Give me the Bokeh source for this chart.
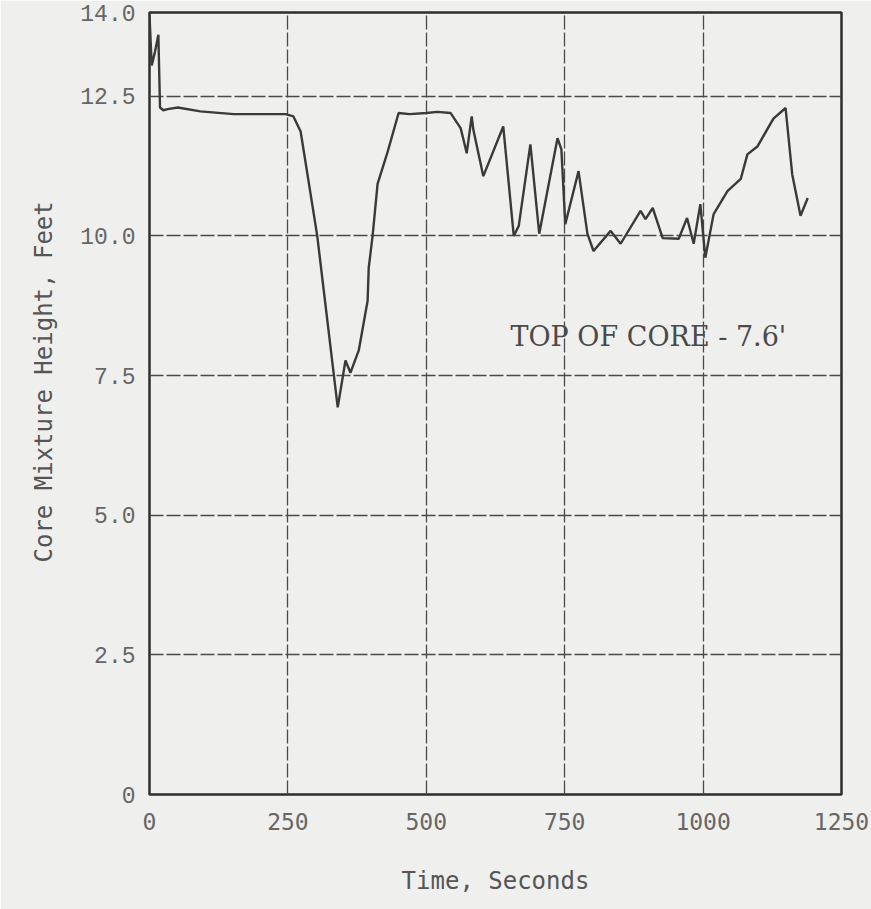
from bokeh.plotting import figure
from bokeh.models import FixedTicker, Label, Title, ColumnDataSource
from bokeh.embed import file_html
from bokeh.resources import INLINE

# Core mixture height history (time in seconds, height in feet)
time_s = [0, 2, 4, 10, 16, 19, 25, 33, 51, 92, 152, 200, 246, 260, 273,
          303, 340, 354, 363, 378, 394, 396, 403, 412, 430, 450, 470, 500,
          520, 544, 562, 567, 573, 582, 585, 603, 639, 658, 667, 688, 704,
          737, 744, 751, 775, 791, 802, 833, 851, 887, 896, 909, 927, 956,
          971, 983, 995, 1004, 1019, 1044, 1068, 1080, 1098, 1127, 1149,
          1161, 1176, 1189]
height_ft = [13.95, 13.5, 13.05, 13.3, 13.6, 12.3, 12.25, 12.27, 12.3, 12.23,
             12.18, 12.18, 12.18, 12.14, 11.87, 10.0, 6.93, 7.77, 7.55, 7.95,
             8.84, 9.43, 10.0, 10.93, 11.5, 12.2, 12.18, 12.2, 12.22, 12.2,
             11.93, 11.73, 11.48, 12.14, 11.9, 11.07, 11.96, 10.0, 10.18,
             11.64, 10.04, 11.75, 11.55, 10.21, 11.16, 10.04, 9.73, 10.09,
             9.86, 10.45, 10.3, 10.5, 9.96, 9.95, 10.32, 9.86, 10.57, 9.61,
             10.39, 10.8, 11.02, 11.46, 11.6, 12.1, 12.29, 11.1, 10.36, 10.68]

x_ticks = [0, 250, 500, 750, 1000, 1250]
y_ticks = [0, 2.5, 5.0, 7.5, 10.0, 12.5, 14.0]
y_tick_labels = ["0", "2.5", "5.0", "7.5", "10.0", "12.5", "14.0"]
note_text = "TOP OF CORE - 7.6'"
y_title = "Core Mixture Height, Feet"
x_title = "Time, Seconds"

BG = "#efefed"
INK = "#3a3a3a"

p = figure(width=871, height=909, x_range=(0, 1250), y_range=(0, 14),
           output_backend="svg", toolbar_location=None,
           min_border_left=149, min_border_right=30,
           min_border_top=12, min_border_bottom=115,
           background_fill_color=BG, border_fill_color=BG)

src = ColumnDataSource(data=dict(t=time_s, h=height_ft))
p.line("t", "h", source=src, line_color=INK, line_width=2.4)

# frame
p.outline_line_color = "#2e2e2e"
p.outline_line_width = 2.5

# axes
p.xaxis.ticker = FixedTicker(ticks=x_ticks)
p.yaxis.ticker = FixedTicker(ticks=y_ticks)
p.yaxis.major_label_overrides = {t: l for t, l in zip(y_ticks, y_tick_labels)}
for ax in (p.xaxis[0], p.yaxis[0]):
    ax.axis_line_color = None
    ax.major_tick_line_color = None
    ax.minor_tick_line_color = None
    ax.major_label_text_color = "#666666"
    ax.axis_label_text_color = "#555555"
    ax.axis_label_text_font_style = "normal"

p.yaxis.major_label_text_font = "Liberation Mono"
p.yaxis.major_label_text_font_size = "23px"
p.yaxis.major_label_standoff = 8

p.xaxis.major_label_text_font = "DejaVu Sans Mono"
p.xaxis.major_label_text_font_size = "23px"
p.xaxis.major_label_standoff = 12
p.xaxis.axis_label = x_title
p.xaxis.axis_label_text_font = "DejaVu Sans Mono"
p.xaxis.axis_label_text_font_size = "24px"
p.xaxis.axis_label_standoff = 34

# vertical axis title, starting part-way up the frame
p.add_layout(Title(text=y_title, align="left", offset=232, standoff=40,
                   text_font="DejaVu Sans Mono", text_font_size="24px",
                   text_font_style="normal", text_color="#555555"), "left")

# grid
p.xgrid.ticker = FixedTicker(ticks=[250, 500, 750, 1000])
p.ygrid.ticker = FixedTicker(ticks=[2.5, 5.0, 7.5, 10.0, 12.5])
p.grid.grid_line_color = "#4a4a4a"
p.grid.grid_line_width = 1.3
p.grid.grid_line_dash = "14 3"

p.add_layout(Label(x=652, y=8.2, text=note_text, text_font="DejaVu Serif",
                   text_font_size="27px", text_color="#4a4a4a",
                   text_baseline="alphabetic", text_align="left"))

open("out.html", "w").write(file_html(p, INLINE))
